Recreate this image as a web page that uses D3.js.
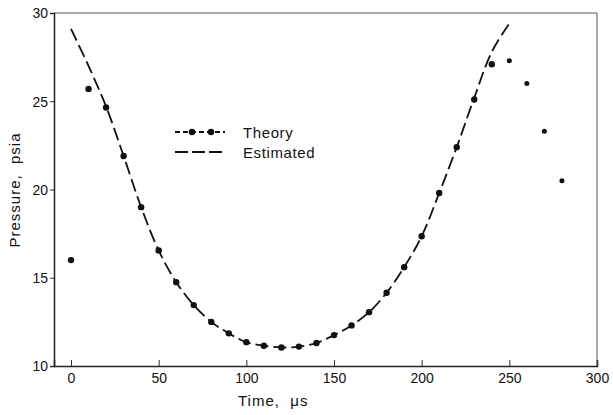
<!DOCTYPE html>
<html>
<head>
<meta charset="UTF-8">
<script src="https://cdn.jsdelivr.net/npm/d3@7"></script>
<style>
  body { margin: 0; background: #fff; }
  svg text { font-family: "Liberation Sans", "DejaVu Sans", sans-serif; fill: #111; white-space: pre; }
</style>
</head>
<body>
<script>
// theory points (us, psia)
var theoryT = [0,10,20,30,40,50,60,70,80,90,100,110,120,130,140,150,160,170,180,190,200,210,220,230,240,250,260,270,280];
var theoryP = [16.0,25.7,24.65,21.9,19.0,16.55,14.75,13.45,12.5,11.85,11.35,11.15,11.05,11.1,11.3,11.75,12.3,13.05,14.15,15.6,17.35,19.8,22.4,25.1,27.1,27.3,26.0,23.3,20.5];
// estimated curve
var estT = [0,10,20,30,40,50,60,70,80,90,100,110,120,130,140,150,160,170,180,190,200,210,220,230,240,250];
var estP = [29.1,27.0,24.7,21.9,19.0,16.55,14.75,13.45,12.5,11.85,11.35,11.15,11.05,11.1,11.3,11.75,12.3,13.05,14.15,15.6,17.35,19.8,22.4,25.2,27.8,29.4];
var xTicks = [0,50,100,150,200,250,300];
var yTicks = [10,15,20,25,30];

var width = 613, height = 415;
var svg = d3.select("body").append("svg").attr("width", width).attr("height", height);

var x = d3.scaleLinear().domain([-9.7, 300]).range([54, 597]);
var y = d3.scaleLinear().domain([10, 30]).range([366, 13]);

// frame
svg.append("line").attr("x1", 54).attr("x2", 597).attr("y1", 13).attr("y2", 13)
  .attr("stroke", "#555").attr("stroke-width", 1);
svg.append("line").attr("x1", 597).attr("x2", 597).attr("y1", 13).attr("y2", 366)
  .attr("stroke", "#555").attr("stroke-width", 1);

var xAxis = svg.append("g").attr("transform", "translate(0,366)")
  .call(d3.axisBottom(x).tickValues(xTicks).tickSize(-6).tickPadding(7));
var yAxis = svg.append("g").attr("transform", "translate(54,0)")
  .call(d3.axisLeft(y).tickValues(yTicks).tickSize(4).tickPadding(2));
[xAxis, yAxis].forEach(function(g) {
  g.select(".domain").attr("stroke", "#222").attr("stroke-width", 1.5);
  g.selectAll(".tick line").attr("stroke", "#333");
  g.selectAll(".tick text").attr("font-size", 14).attr("fill", "#111")
    .style("font-family", "Liberation Sans, DejaVu Sans, sans-serif");
});
yAxis.selectAll(".tick text").attr("dy", "0.35em");

svg.append("text").attr("x", 238).attr("y", 406).attr("font-size", 15)
  .attr("letter-spacing", 1).text("Time,  \u03bcs");
svg.append("text").attr("transform", "translate(20,190) rotate(-90)")
  .attr("text-anchor", "middle").attr("font-size", 15).attr("letter-spacing", 1)
  .text("Pressure,  psia");

var line = d3.line().curve(d3.curveCatmullRom)
  .x(function(d) { return x(d[0]); }).y(function(d) { return y(d[1]); });

var est = estT.map(function(t, i) { return [t, estP[i]]; });
svg.append("path").attr("d", line(est)).attr("fill", "none")
  .attr("stroke", "#111").attr("stroke-width", 1.8).attr("stroke-dasharray", "13,5");

var th = theoryT.map(function(t, i) { return [t, theoryP[i]]; });
svg.selectAll(".pt").data(th).enter().append("circle").attr("class", "pt")
  .attr("cx", function(d) { return x(d[0]); })
  .attr("cy", function(d) { return y(d[1]); })
  .attr("r", function(d) { return d[0] >= 250 ? 2.5 : 3.2; })
  .attr("fill", "#111");

// legend
var lg = svg.append("g");
lg.append("line").attr("x1", 175).attr("x2", 225).attr("y1", 132).attr("y2", 132)
  .attr("stroke", "#111").attr("stroke-width", 1.8).attr("stroke-dasharray", "5,3");
[192, 211].forEach(function(cx) {
  lg.append("circle").attr("cx", cx).attr("cy", 132).attr("r", 3.2).attr("fill", "#111");
});
lg.append("line").attr("x1", 175).attr("x2", 225).attr("y1", 152).attr("y2", 152)
  .attr("stroke", "#111").attr("stroke-width", 1.8).attr("stroke-dasharray", "13,4");
lg.append("text").attr("x", 243).attr("y", 138).attr("font-size", 15).attr("letter-spacing", 0.6).text("Theory");
lg.append("text").attr("x", 243).attr("y", 158).attr("font-size", 15).attr("letter-spacing", 0.6).text("Estimated");
</script>
</body>
</html>
